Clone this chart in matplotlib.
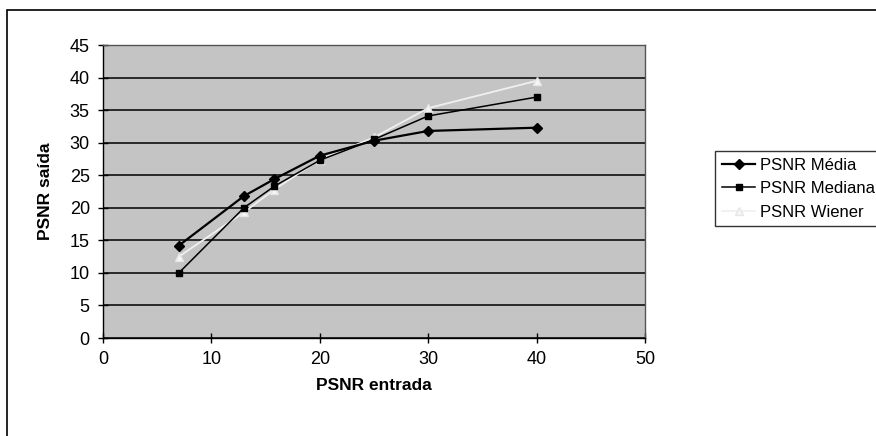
import matplotlib
matplotlib.use('Agg')
import matplotlib.pyplot as plt
from matplotlib.patches import Rectangle

plt.rcParams['font.family'] = ['Liberation Sans', 'DejaVu Sans']

# dados
psnr_entrada = [7, 13, 15.8, 20, 25, 30, 40]
psnr_media = [14.2, 21.8, 24.4, 28.0, 30.3, 31.8, 32.3]
psnr_mediana = [10.0, 20.0, 23.3, 27.3, 30.5, 34.1, 37.0]
psnr_wiener = [12.5, 19.3, 22.8, 27.4, 30.8, 35.3, 39.5]
y_ticks = [0, 5, 10, 15, 20, 25, 30, 35, 40, 45]
x_ticks = [0, 10, 20, 30, 40, 50]

fig = plt.figure(figsize=(8.76, 4.36), dpi=100)
ax = fig.add_axes([103/876, 1-338/436, (645-103)/876, (338-45)/436])
ax.set_facecolor('#c4c4c4')

ax.plot(psnr_entrada, psnr_wiener, color='#f0f0f0', lw=1.3, marker='^', ms=6,
        mfc='#f6f6f6', mec='#e6e6e6', label='PSNR Wiener', zorder=3)
ax.plot(psnr_entrada, psnr_mediana, color='black', lw=1.1, marker='s', ms=5,
        label='PSNR Mediana', zorder=4)
ax.plot(psnr_entrada, psnr_media, color='black', lw=1.6, marker='D', ms=5,
        label='PSNR Média', zorder=5)

ax.set_xlim(0, 50)
ax.set_ylim(0, 45)
ax.set_xticks(x_ticks)
ax.set_yticks(y_ticks)
ax.yaxis.grid(True, color='black', lw=1.1)
ax.set_axisbelow(True)
ax.tick_params(direction='inout', length=7, width=1, labelsize=13, pad=6)
for s in ax.spines.values():
    s.set_linewidth(1)
ax.spines['right'].set_color('#555555')
ax.spines['top'].set_color('#555555')
ax.set_xlabel('PSNR entrada', fontsize=12.5, fontweight='bold', labelpad=7)
ax.set_ylabel('PSNR saída', fontsize=12.5, fontweight='bold', labelpad=12)

h, l = ax.get_legend_handles_labels()
leg = fig.legend(h[::-1], l[::-1], loc='upper left', bbox_to_anchor=(707/876, 1-143/436),
                 fontsize=12, frameon=True, fancybox=False, edgecolor='black',
                 handlelength=2.0, handletextpad=0.3, borderpad=0.4, labelspacing=0.5)
leg.get_frame().set_linewidth(1)

# moldura externa do grafico
fig.patches.append(Rectangle((7/876, -0.05), 1.0, 1-10/436+0.05, transform=fig.transFigure,
                             fill=False, ec='black', lw=1.2))

fig.savefig('out.png', dpi=100, facecolor='white')
